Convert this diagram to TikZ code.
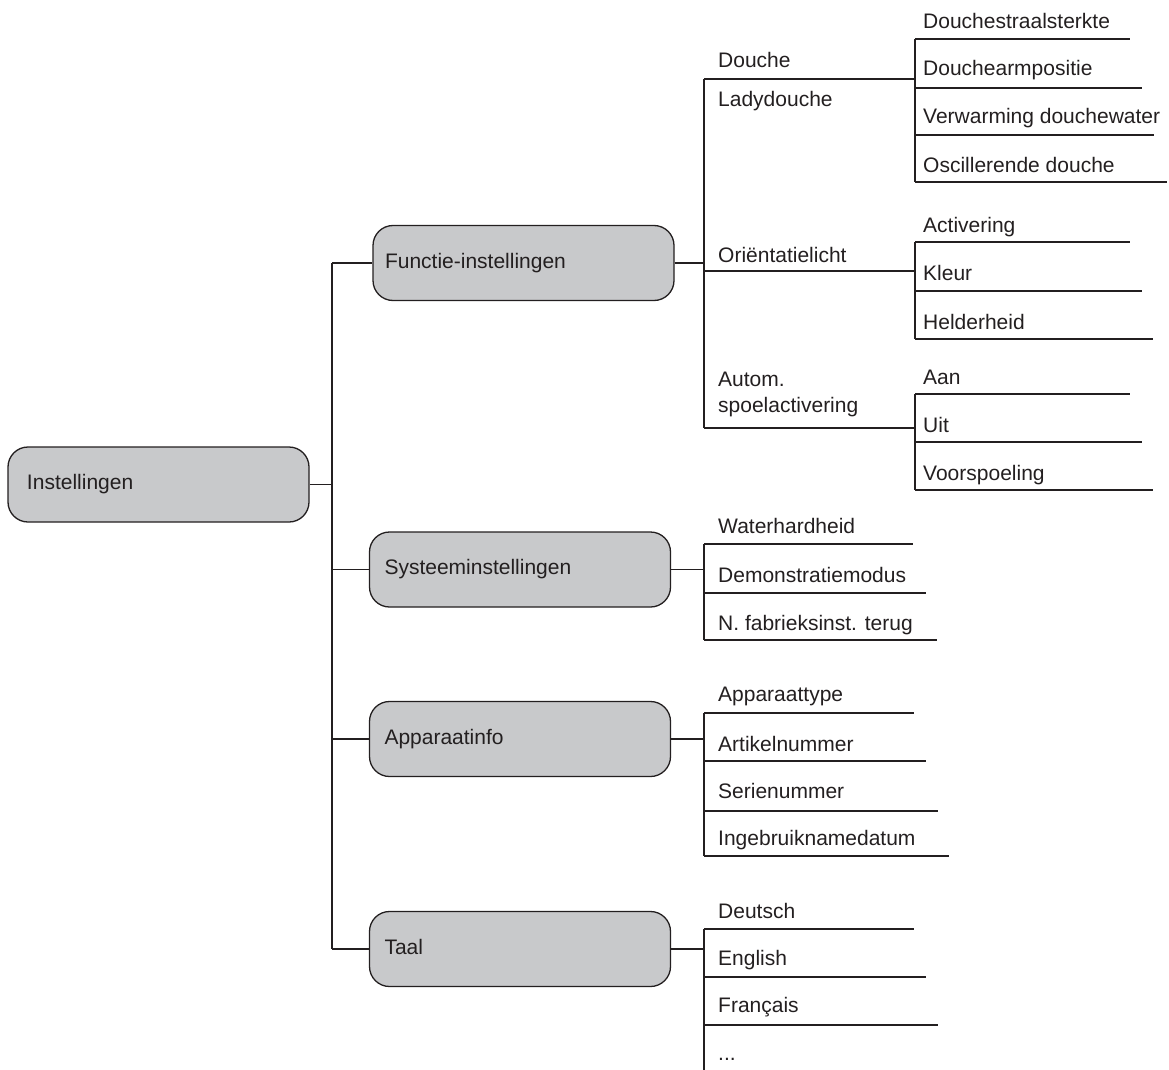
\documentclass[tikz,border=0pt]{standalone}
\usepackage{fontspec}
\setmainfont{Liberation Sans}
\definecolor{boxgray}{HTML}{C8C9CB}
\definecolor{lc}{HTML}{231F20}
\definecolor{txt}{HTML}{231F20}
\newcommand{\itemfnt}{\fontsize{21}{26}\selectfont}
\begin{document}
\begin{tikzpicture}[x=1pt,y=-1pt,
  ln/.style={draw=lc,line width=1.3pt},
  box/.style={draw=lc,line width=1.3pt,fill=boxgray,rounded corners=20pt,
    text width=271pt,align=left,inner xsep=15pt,inner ysep=0pt,
    minimum height=75pt,text height=15pt,text depth=4.5pt,font=\itemfnt,text=txt},
  item/.style={anchor=base west,inner sep=0pt,font=\itemfnt,text=txt}]
\useasboundingbox (0,0) rectangle (1169,1070);

% level 0 / 1 boxes
\node[box,text width=263pt,inner xsep=19pt] (root) at (158.5,484.5) {Instellingen};
\node[box,text width=277pt,inner xsep=12pt] (func) at (523.5,263) {Functie-instellingen};
\node[box] (sys)  at (520,569.5) {Systeeminstellingen};
\node[box] (app)  at (520,739) {Apparaatinfo};
\node[box] (taal) at (520,949) {Taal};

% trunk
\coordinate (tr) at (332,484.5);
\coordinate (trtop) at (332,263);
\coordinate (trbot) at (332,949);
\draw[ln] (root.east) -- (tr);
\draw[ln] (trtop) -- (trbot);
\draw[ln] (trtop) -- (func.west);
\draw[ln] (sys.west -| tr) -- (sys.west);
\draw[ln] (app.west -| tr) -- (app.west);
\draw[ln] (trbot) -- (taal.west);

% ---------- Functie-instellingen ----------
\coordinate (fa) at (704,79);
\coordinate (fb) at (704,428);
\draw[ln] (func.east) -- (func.east -| fa);
\draw[ln] (fa) -- (fb);

\node[item] (douche) at (718,68) {Douche};
\node[item] (lady) at (718,107) {Ladydouche};
\node[item] (orient) at (718,262) {Oriëntatielicht};
\node[item,anchor=north west,align=left] (autom) at (718,372) {Autom.\\spoelactivering};

\coordinate (da) at (915,39);
\coordinate (db) at (915,182);
\draw[ln] (fa) -- (915,79);
\draw[ln] (da) -- (db);
\node[item] (d1) at (923,29) {Douchestraalsterkte};
\node[item] (d2) at (923,76) {Douchearmpositie};
\node[item] (d3) at (923,124) {Verwarming douchewater};
\node[item] (d4) at (923,172) {Oscillerende douche};
\draw[ln] (da) -- (1130,39);
\draw[ln] (915,88) -- (1142,88);
\draw[ln] (915,135) -- (1154,135);
\draw[ln] (db) -- (1167,182);

\coordinate (oa) at (915,242);
\coordinate (ob) at (915,339);
\draw[ln] (704,271) -- (915,271);
\draw[ln] (oa) -- (ob);
\node[item] (o1) at (923,232) {Activering};
\node[item] (o2) at (923,280) {Kleur};
\node[item] (o3) at (923,329) {Helderheid};
\draw[ln] (oa) -- (1130,242);
\draw[ln] (915,291) -- (1142,291);
\draw[ln] (ob) -- (1153,339);

\coordinate (aa) at (915,394);
\coordinate (ab) at (915,490);
\draw[ln] (fb) -- (915,428);
\draw[ln] (aa) -- (ab);
\node[item] (a1) at (923,384) {Aan};
\node[item] (a2) at (923,432) {Uit};
\node[item] (a3) at (923,480) {Voorspoeling};
\draw[ln] (aa) -- (1130,394);
\draw[ln] (915,442) -- (1142,442);
\draw[ln] (ab) -- (1153,490);

% ---------- Systeeminstellingen ----------
\coordinate (sa) at (704,544);
\coordinate (sb) at (704,640);
\draw[ln] (sys.east) -- (sys.east -| sa);
\draw[ln] (sa) -- (sb);
\node[item] (s1) at (718,533) {Waterhardheid};
\node[item] (s2) at (718,582) {Demonstratiemodus};
\node[item] (s3) at (718,630) {N. fabrieksinst. terug};
\draw[ln] (sa) -- (913,544);
\draw[ln] (704,593) -- (926,593);
\draw[ln] (sb) -- (937,640);

% ---------- Apparaatinfo ----------
\coordinate (pa) at (704,713);
\coordinate (pb) at (704,856);
\draw[ln] (app.east) -- (app.east -| pa);
\draw[ln] (pa) -- (pb);
\node[item] (p1) at (718,701) {Apparaattype};
\node[item] (p2) at (718,751) {Artikelnummer};
\node[item] (p3) at (718,798) {Serienummer};
\node[item] (p4) at (718,845) {Ingebruiknamedatum};
\draw[ln] (pa) -- (914,713);
\draw[ln] (704,761) -- (926,761);
\draw[ln] (704,811) -- (938,811);
\draw[ln] (pb) -- (949,856);

% ---------- Taal ----------
\coordinate (ta) at (704,929);
\coordinate (tb) at (704,1070);
\draw[ln] (taal.east) -- (taal.east -| ta);
\draw[ln] (ta) -- (tb);
\node[item] (t1) at (718,918) {Deutsch};
\node[item] (t2) at (718,965) {English};
\node[item] (t3) at (718,1012) {Français};
\node[item] (t4) at (718,1060) {...};
\draw[ln] (ta) -- (914,929);
\draw[ln] (704,977) -- (926,977);
\draw[ln] (704,1025) -- (938,1025);
\end{tikzpicture}
\end{document}
